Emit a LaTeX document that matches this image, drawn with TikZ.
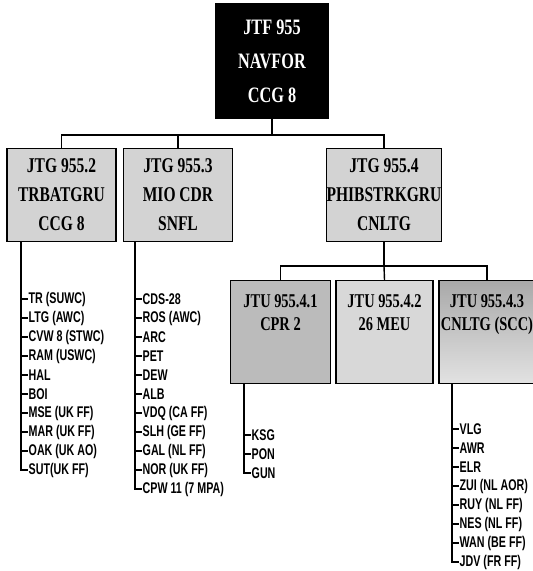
\documentclass[tikz,border=0pt]{standalone}
\usepackage{fontspec}
\setmainfont{Liberation Serif}[FakeStretch=0.74]
\newfontfamily\listfont{Liberation Sans}[FakeStretch=0.69]
\usepackage{tikz}
\usetikzlibrary{positioning,calc}
\definecolor{grpgray}{HTML}{D3D3D3}
\definecolor{darkgray}{HTML}{BBBBBB}
\definecolor{lightgray}{HTML}{D8D8D8}
\definecolor{fadetop}{HTML}{A9A9A9}
\definecolor{fadebot}{HTML}{E2E2E2}
\newcommand{\topfont}{\fontsize{22}{34}\selectfont}
\newcommand{\grpfont}{\fontsize{21}{29}\selectfont}
\newcommand{\unitfont}{\fontsize{19.5}{23}\selectfont}
\newcommand{\itemfont}{\listfont\bfseries\fontsize{15.5}{17}\selectfont}

\begin{document}
\begin{tikzpicture}[x=1pt,y=-1pt,line width=1.4pt]
  \path[use as bounding box] (0,0) rectangle (533,571);
  \clip (0,0) rectangle (533,571);
  \tikzset{
    cmd/.style={draw,fill=black,text=white,font=\bfseries\topfont,align=center,minimum width=112pt,minimum height=114pt,inner sep=0pt},
    grp/.style={draw,fill=grpgray,font=\bfseries\grpfont,align=center,minimum width=109pt,minimum height=93pt,inner sep=0pt},
    unit/.style={draw,font=\bfseries\unitfont,align=center,minimum width=100pt,inner xsep=0pt,inner ysep=12pt,text height=38pt,text depth=41pt},
    item/.style={anchor=west,inner sep=0pt,font=\itemfont}
  }
  \node[cmd] (jtf) at (272,61) {JTF 955\\NAVFOR\\CCG 8};

  \node[grp] (jtg2) at (61.5,195) {JTG 955.2\\TRBATGRU\\CCG 8};
  \node[grp] (jtg3) at (178,195) {JTG 955.3\\MIO CDR\\SNFL};
  \node[grp] (jtg4) at (384,195) {JTG 955.4\\PHIBSTRKGRU\\CNLTG};

  \node[unit,fill=darkgray] (jtu1) at (280.5,332) {JTU 955.4.1\\CPR 2};
  \node[unit,fill=lightgray,minimum width=97pt] (jtu2) at (384.5,332) {JTU 955.4.2\\26 MEU};
  \node[unit,top color=fadetop,bottom color=fadebot,minimum width=96pt] (jtu3) at (487,332) {JTU 955.4.3\\CNLTG (SCC)};

  \coordinate (bus1) at (272,135);
  \coordinate (bus2) at (384,266);
  \draw (jtf) -- (bus1);
  \draw (jtg2.north) |- (bus1) -| (jtg4.north);
  \draw (jtg3.north) -- (jtg3.north |- bus1);
  \draw (jtg4.south) -- (bus2);
  \draw (jtu1.north) |- (bus2) -| (jtu3.north);
  \draw (jtu2.north) -- (bus2);

  % TRBATGRU units
  \coordinate (s1) at (21,0);
  \node[item] (tr) at (28,299) {TR (SUWC)};
  \node[item] (ltg) at (28,318) {LTG (AWC)};
  \node[item] (cvw) at (28,337) {CVW 8 (STWC)};
  \node[item] (ram) at (28,356) {RAM (USWC)};
  \node[item] (hal) at (28,375) {HAL};
  \node[item] (boi) at (28,394) {BOI};
  \node[item] (mse) at (28,413) {MSE (UK FF)};
  \node[item] (mar) at (28,432) {MAR (UK FF)};
  \node[item] (oak) at (28,451) {OAK (UK AO)};
  \node[item] (sut) at (28,470) {SUT(UK FF)};
  \draw (jtg2.south -| s1) |- (sut.west);
  \foreach \n in {tr,ltg,cvw,ram,hal,boi,mse,mar,oak}
    \draw (\n.west -| s1) -- (\n.west);

  % MIO units
  \coordinate (s2) at (135,0);
  \node[item] (cds) at (142,299) {CDS-28};
  \node[item] (ros) at (142,318) {ROS (AWC)};
  \node[item] (arc) at (142,337) {ARC};
  \node[item] (pet) at (142,356) {PET};
  \node[item] (dew) at (142,375) {DEW};
  \node[item] (alb) at (142,394) {ALB};
  \node[item] (vdq) at (142,413) {VDQ (CA FF)};
  \node[item] (slh) at (142,432) {SLH (GE FF)};
  \node[item] (gal) at (142,451) {GAL (NL FF)};
  \node[item] (nor) at (142,470) {NOR (UK FF)};
  \node[item] (cpw) at (142,489) {CPW 11 (7 MPA)};
  \draw (jtg3.south -| s2) |- (cpw.west);
  \foreach \n in {cds,ros,arc,pet,dew,alb,vdq,slh,gal,nor}
    \draw (\n.west -| s2) -- (\n.west);

  % CPR 2 units
  \coordinate (s3) at (244,0);
  \node[item] (ksg) at (251,435) {KSG};
  \node[item] (pon) at (251,454) {PON};
  \node[item] (gun) at (251,473) {GUN};
  \draw (jtu1.south -| s3) |- (gun.west);
  \foreach \n in {ksg,pon}
    \draw (\n.west -| s3) -- (\n.west);

  % CNLTG (SCC) units
  \coordinate (s4) at (452,0);
  \node[item] (vlg) at (459,429) {VLG};
  \node[item] (awr) at (459,448) {AWR};
  \node[item] (elr) at (459,467) {ELR};
  \node[item] (zui) at (459,486) {ZUI (NL AOR)};
  \node[item] (ruy) at (459,505) {RUY (NL FF)};
  \node[item] (nes) at (459,524) {NES (NL FF)};
  \node[item] (wan) at (459,543) {WAN (BE FF)};
  \node[item] (jdv) at (459,562) {JDV (FR FF)};
  \draw (jtu3.south -| s4) |- (jdv.west);
  \foreach \n in {vlg,awr,elr,zui,ruy,nes,wan}
    \draw (\n.west -| s4) -- (\n.west);
\end{tikzpicture}
\end{document}
